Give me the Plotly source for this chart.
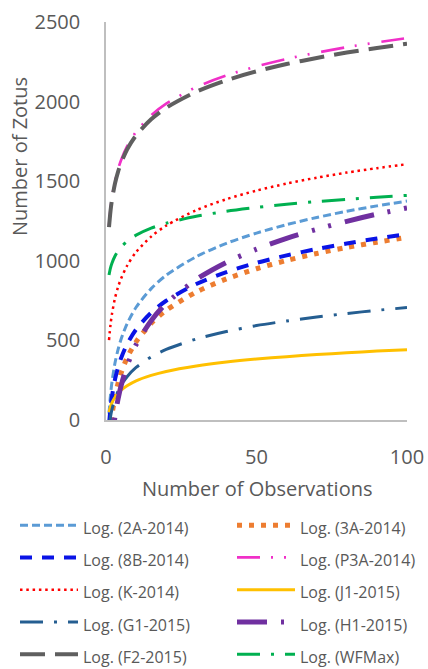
import plotly.graph_objects as go

obs = [1, 1.5, 2, 3, 4, 5, 7, 10, 15, 20, 30, 40, 50, 60, 70, 80, 90, 100]

zotus_2A_2014 = [40, 157, 241, 359, 442, 507, 604, 708, 825, 909, 1026, 1110, 1174, 1227, 1272, 1311, 1345, 1375]
zotus_3A_2014 = [-165, -50, 33, 148, 230, 294, 390, 491, 607, 689, 804, 886, 950, 1002, 1046, 1084, 1117, 1147]
zotus_8B_2014 = [-30, 75, 150, 256, 330, 388, 476, 569, 674, 749, 854, 929, 987, 1034, 1074, 1109, 1140, 1167]
zotus_P3A_2014 = [1220, 1324, 1397, 1501, 1575, 1632, 1718, 1810, 1913, 1987, 2091, 2164, 2221, 2268, 2307, 2342, 2372, 2399]
zotus_K_2014 = [502, 599, 668, 766, 835, 888, 969, 1055, 1152, 1221, 1318, 1387, 1441, 1485, 1522, 1554, 1582, 1607]
zotus_J1_2015 = [50, 84, 109, 143, 168, 187, 215, 246, 280, 305, 339, 364, 383, 398, 411, 422, 433, 441]
zotus_G1_2015 = [-45, 21, 68, 134, 181, 217, 272, 330, 396, 443, 509, 556, 593, 622, 647, 669, 689, 706]
zotus_H1_2015 = [-386, -235, -128, 24, 131, 214, 340, 473, 624, 732, 883, 990, 1073, 1141, 1198, 1248, 1293, 1332]
zotus_F2_2015 = [1212, 1313, 1385, 1487, 1559, 1614, 1699, 1788, 1889, 1961, 2062, 2134, 2190, 2236, 2274, 2308, 2337, 2363]
zotus_WFMax = [911, 955, 986, 1030, 1061, 1086, 1122, 1161, 1205, 1236, 1280, 1311, 1335, 1355, 1372, 1386, 1399, 1411]

series_names = ["Log. (2A-2014)", "Log. (3A-2014)", "Log. (8B-2014)", "Log. (P3A-2014)",
                "Log. (K-2014)", "Log. (J1-2015)", "Log. (G1-2015)", "Log. (H1-2015)",
                "Log. (F2-2015)", "Log. (WFMax)"]
series_values = [zotus_2A_2014, zotus_3A_2014, zotus_8B_2014, zotus_P3A_2014, zotus_K_2014,
                 zotus_J1_2015, zotus_G1_2015, zotus_H1_2015, zotus_F2_2015, zotus_WFMax]

x_ticks = [0, 50, 100]
y_ticks = [0, 500, 1000, 1500, 2000, 2500]

styles = [
    dict(color="#5B9BD5", width=3, dash="8px,4px"),
    dict(color="#ED7D31", width=5, dash="5px,7px"),
    dict(color="#0A14E6", width=4, dash="12px,10px"),
    dict(color="#F030C8", width=2.7, dash="23px,11px,2px,11px,2px,12px"),
    dict(color="#FF0000", width=2.5, dash="2.5px,3.8px"),
    dict(color="#FFC000", width=3),
    dict(color="#255E91", width=3, dash="23px,11px,3px,11px"),
    dict(color="#7030A0", width=5, dash="30px,14px,3px,14px,3px,14px"),
    dict(color="#5F5F5F", width=4, dash="25px,10px"),
    dict(color="#00B050", width=3, dash="23px,11px,3px,11px"),
]

fig = go.Figure()
for i, (name, vals, st) in enumerate(zip(series_names, series_values, styles)):
    fig.add_trace(go.Scatter(
        x=obs, y=vals, mode="lines", name=f'<span style="font-size:16px">{name}</span>',
        line=dict(shape="spline", smoothing=0.8, **st),
        legend="legend" if i % 2 == 0 else "legend2",
    ))

W, H = 428, 669
gray = "#595959"
leg_common = dict(
    orientation="v", xref="container", yref="container",
    y=1 - 504 / H, xanchor="left", yanchor="top",
    itemwidth=58, font=dict(size=22.5, color=gray, family="Open Sans"),
    traceorder="normal", bgcolor="rgba(0,0,0,0)", tracegroupgap=0,
)
fig.update_layout(
    width=W, height=H,
    margin=dict(l=106, r=21, t=22, b=249, autoexpand=False),
    paper_bgcolor="white", plot_bgcolor="white",
    font=dict(family="Open Sans", color=gray, size=20),
    showlegend=True,
    legend=dict(x=15 / W, **leg_common),
    legend2=dict(x=232 / W, **leg_common),
    xaxis=dict(
        range=[0, 100], tickvals=x_ticks, showgrid=False, zeroline=False,
        showline=True, linecolor="#BFBFBF", linewidth=1.5,
        ticks="", ticklabelstandoff=18, tickfont=dict(size=20, color=gray),
    ),
    yaxis=dict(
        range=[0, 2500], tickvals=y_ticks, showgrid=False, zeroline=False,
        showline=True, linecolor="#BFBFBF", linewidth=1.5,
        ticks="", ticklabelstandoff=20, tickfont=dict(size=20, color=gray),
    ),
    annotations=[
        dict(text="Number of Observations", xref="paper", yref="paper",
             x=0.5, y=(420 - 488) / 398, showarrow=False, xanchor="center", yanchor="middle",
             font=dict(size=20, color=gray)),
        dict(text="Number of Zotus", xref="paper", yref="paper",
             x=(19 - 106) / 301, y=(420 - 157) / 398, showarrow=False, textangle=-90,
             xanchor="center", yanchor="middle", font=dict(size=20, color=gray)),
    ],
)

fig.write_html(
    "out.html",
    config={"displayModeBar": False},
    post_script="document.body.style.margin='0';document.body.style.overflow='hidden';",
)
